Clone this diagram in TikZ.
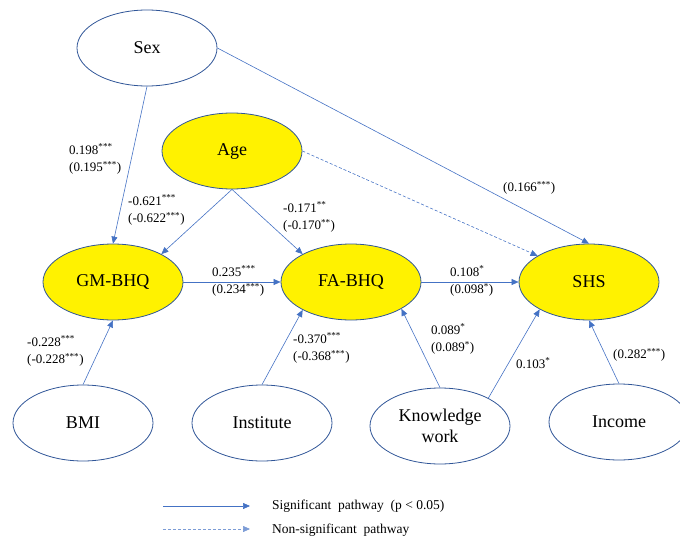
\documentclass[tikz,border=0pt]{standalone}
\usepackage{fontspec}
\setmainfont{Liberation Serif}
\usetikzlibrary{arrows.meta,shapes.geometric}
\definecolor{pathblue}{HTML}{4472C4}
\definecolor{rimblue}{HTML}{2F5597}
\begin{document}
\begin{tikzpicture}[x=1pt,y=-1pt]
% styles
\tikzstyle{var_node} = [ellipse, draw=rimblue, line width=0.8pt, minimum width=140pt, minimum height=76pt, inner sep=0pt, align=center, font=\fontsize{18}{21}\selectfont]
\tikzstyle{latent} = [var_node, fill=yellow]
\tikzstyle{path_sig} = [draw=pathblue, line width=0.6pt, -{Triangle[length=7pt,width=6pt]}]
\tikzstyle{path_ns} = [path_sig, dash pattern=on 3pt off 2pt]
\tikzstyle{coef} = [anchor=west, inner sep=0pt, align=left, font=\fontsize{13}{17.5}\selectfont]

\useasboundingbox (0,0) rectangle (680,538);

% Covariates on top
\node[var_node] (sex) at (147,48) {Sex};
\node[latent] (age) at (232,151) {Age};

% Main chain
\node[latent] (gm) at (113,282) {GM-BHQ};
\node[latent] (fa) at (351,282) {FA-BHQ};
\node[latent] (shs) at (589,282) {SHS};

% Covariates at the bottom
\node[var_node] (bmi) at (83,423) {BMI};
\node[var_node] (inst) at (262,423) {Institute};
\node[var_node] (kw) at (440,426) {Knowledge\\work};
\node[var_node] (income) at (619,422) {Income};

% Pathways
\draw[path_sig] (sex.south) -- (gm.north);
\draw[path_sig] (sex.east) -- (shs.north);
\draw[path_ns] (age.east) -- (shs.153);
\draw[path_sig] (age.south) -- (gm.30);
\draw[path_sig] (age.south) -- (fa.150);
\draw[path_sig] (gm.east) -- (fa.west);
\draw[path_sig] (fa.east) -- (shs.west);
\draw[path_sig] (bmi.north) -- (gm.south);
\draw[path_sig] (inst.north) -- (fa.210);
\draw[path_sig] (kw.north) -- (fa.332);
\draw[path_sig] (kw.30) -- (shs.209);
\draw[path_sig] (income.north) -- (shs.south);

% Path coefficients
\node[coef] (c_sex_gm) at (69,159) {0.198\textsuperscript{***}\\(0.195\textsuperscript{***})};
\node[coef] (c_age_gm) at (128,210) {-0.621\textsuperscript{***}\\(-0.622\textsuperscript{***})};
\node[coef] (c_age_fa) at (283,217) {-0.171\textsuperscript{**}\\(-0.170\textsuperscript{**})};
\node[coef] (c_sex_shs) at (503,188) {(0.166\textsuperscript{***})};
\node[coef] (c_gm_fa) at (212,281) {0.235\textsuperscript{***}\\(0.234\textsuperscript{***})};
\node[coef] (c_fa_shs) at (450,281) {0.108\textsuperscript{*}\\(0.098\textsuperscript{*})};
\node[coef] (c_bmi) at (27,351) {-0.228\textsuperscript{***}\\(-0.228\textsuperscript{***})};
\node[coef] (c_inst) at (293,348) {-0.370\textsuperscript{***}\\(-0.368\textsuperscript{***})};
\node[coef] (c_kw_fa) at (431,339) {0.089\textsuperscript{*}\\(0.089\textsuperscript{*})};
\node[coef] (c_kw_shs) at (516,363) {0.103\textsuperscript{*}};
\node[coef] (c_income) at (613,355) {(0.282\textsuperscript{***})};

% Legend
\coordinate (sig_a) at (163,506);
\coordinate (sig_b) at (250,506);
\coordinate (ns_a) at (163,529);
\coordinate (ns_b) at (250,529);
\draw[path_sig] (sig_a) -- (sig_b);
\draw[path_ns, draw=pathblue!70] (ns_a) -- (ns_b);
\node[coef, font=\fontsize{13.5}{17}\selectfont] (leg_sig) at (272,506) {Significant\ \ pathway\ \ (p < 0.05)};
\node[coef, font=\fontsize{13.5}{17}\selectfont] (leg_ns) at (272,530) {Non-significant\ \ pathway};
\end{tikzpicture}
\end{document}
